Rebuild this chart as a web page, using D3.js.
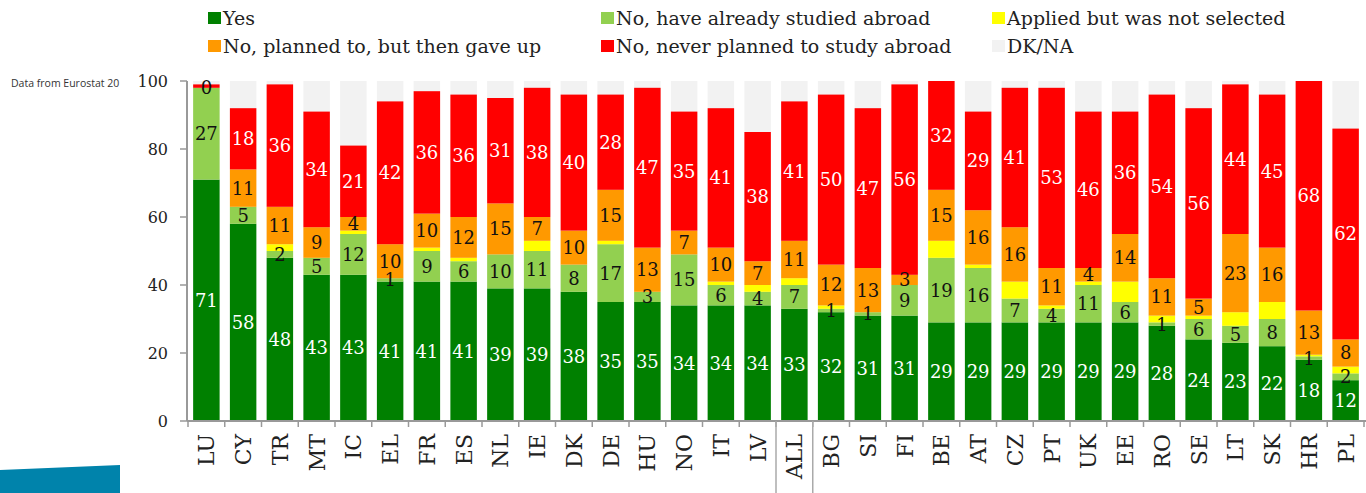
<!DOCTYPE html>
<html>
<head>
<meta charset="utf-8">
<script src="https://cdn.jsdelivr.net/npm/d3@7"></script>
<style>
	body { margin: 0; background: #fff; }
	svg { display: block; }
</style>
</head>
<body>
<div id="chart"></div>
<script>
// categories and series (percent)
var categories = ["LU","CY","TR","MT","IC","EL","FR","ES","NL","IE","DK","DE","HU","NO","IT","LV",
	"ALL","BG","SI","FI","BE","AT","CZ","PT","UK","EE","RO","SE","LT","SK","HR","PL"];
var yes =     [71,58,48,43,43,41,41,41,39,39,38,35,35,34,34,34,33,32,31,31,29,29,29,29,29,29,28,24,23,22,18,12];
var abroad =  [27, 5, 2, 5,12, 1, 9, 6,10,11, 8,17, 3,15, 6, 4, 7, 1, 1, 9,19,16, 7, 4,11, 6, 1, 6, 5, 8, 1, 2];
var applied = [ 0, 0, 2, 0, 1, 0, 1, 1, 0, 3, 0, 1, 0, 0, 1, 2, 2, 1, 0, 0, 5, 1, 5, 1, 1, 6, 2, 1, 4, 5,0.5,2];
var gaveUp =  [ 0,11,11, 9, 4,10,10,12,15, 7,10,15,13, 7,10, 7,11,12,13, 3,15,16,16,11, 4,14,11, 5,23,16,13, 8];
var never =   [ 1,18,36,34,21,42,36,36,31,38,40,28,47,35,41,38,41,50,47,56,32,29,41,53,46,36,54,56,44,45,68,62];
var yTicks = [0, 20, 40, 60, 80, 100];

var series = [
	{ name: "Yes", values: yes, color: "#008000", text: "#fff", minLabel: 0 },
	{ name: "No, have already studied abroad", values: abroad, color: "#92d050", text: "#111", minLabel: 0 },
	{ name: "Applied but was not selected", values: applied, color: "#ffff00", text: null },
	{ name: "No, planned to, but then gave up", values: gaveUp, color: "#ff9900", text: "#111", minLabel: 0 },
	{ name: "No, never planned to study abroad", values: never, color: "#ff0000", text: "#fff", minLabel: 2 }
];
var dkColor = "#f2f2f2";

var width = 1366, height = 493;
var serif = "'DejaVu Serif', 'Liberation Serif', Georgia, serif";

var svg = d3.select("#chart")
	.append("svg")
	.attr("width", width)
	.attr("height", height);

// left strip: source note and blue band
svg.append("clipPath").attr("id", "noteClip")
	.append("rect").attr("x", 0).attr("y", 0).attr("width", 120).attr("height", height);
svg.append("text")
	.attr("x", 11).attr("y", 87)
	.attr("clip-path", "url(#noteClip)")
	.style("font-family", "'Open Sans', sans-serif")
	.style("font-size", "10.5px")
	.style("fill", "#333")
	.text("Data from Eurostat 2014");
svg.append("path")
	.attr("d", "M0,470 L120,465 L120,493 L0,493 Z")
	.style("fill", "#0083ab");

var x = d3.scaleBand()
	.domain(categories)
	.range([188, 1364])
	.paddingInner(0.28)
	.paddingOuter(0.14);

var y = d3.scaleLinear()
	.domain([0, 100])
	.range([421, 81]);

// stack the rows (the plot stops at 100)
var rows = categories.map(function(c, i) {
	var base = 0;
	var segs = series.map(function(s) {
		var v = s.values[i];
		var seg = { cat: c, s: s, y0: Math.min(base, 100), y1: Math.min(base + v, 100), v: v };
		base += v;
		return seg;
	});
	return { cat: c, segs: segs, total: base };
});

// DK/NA background up to 100
svg.selectAll(".dk")
	.data(rows)
	.enter().append("rect")
	.attr("class", "dk")
	.attr("x", function(d) { return x(d.cat); })
	.attr("width", x.bandwidth())
	.attr("y", y(100))
	.attr("height", function(d) { return y(0) - y(100); })
	.style("fill", dkColor);

var bar = svg.selectAll(".bar")
	.data(rows)
	.enter().append("g")
	.attr("class", "bar");

bar.selectAll("rect")
	.data(function(d) { return d.segs; })
	.enter().append("rect")
	.attr("x", function(d) { return x(d.cat); })
	.attr("width", x.bandwidth())
	.attr("y", function(d) { return y(d.y1); })
	.attr("height", function(d) { return y(d.y0) - y(d.y1); })
	.style("fill", function(d) { return d.s.color; });

bar.selectAll("text")
	.data(function(d) { return d.segs.filter(function(s) { return s.s.text && s.v >= s.s.minLabel; }); })
	.enter().append("text")
	.attr("x", function(d) { return x(d.cat) + x.bandwidth() / 2; })
	.attr("y", function(d) { return y((d.y0 + d.y1) / 2); })
	.attr("dy", "0.36em")
	.attr("text-anchor", "middle")
	.style("font-family", serif)
	.style("font-size", "18px")
	.style("fill", function(d) { return d.s.text; })
	.text(function(d) { return d.v; });

// axes
var axisColor = "#999";
svg.append("line")
	.attr("x1", 187).attr("x2", 1366)
	.attr("y1", y(0)).attr("y2", y(0))
	.style("stroke", axisColor).style("stroke-width", 2);
svg.append("line")
	.attr("x1", 187).attr("x2", 187)
	.attr("y1", y(0)).attr("y2", y(100))
	.style("stroke", axisColor).style("stroke-width", 2);

svg.selectAll(".ytick")
	.data(yTicks)
	.enter().append("line")
	.attr("x1", 180).attr("x2", 187)
	.attr("y1", function(d) { return y(d); })
	.attr("y2", function(d) { return y(d); })
	.style("stroke", axisColor).style("stroke-width", 1.5);

svg.selectAll(".ylab")
	.data(yTicks)
	.enter().append("text")
	.attr("x", 168)
	.attr("y", function(d) { return y(d); })
	.attr("dy", "0.36em")
	.attr("text-anchor", "end")
	.style("font-family", serif)
	.style("font-size", "16px")
	.style("fill", "#222")
	.text(function(d) { return d; });

// x ticks sit between the bars
var gap = (x.step() - x.bandwidth()) / 2;
var bounds = categories.map(function(c) { return x(c) - gap; });
bounds.push(x(categories[categories.length - 1]) + x.bandwidth() + gap);

svg.selectAll(".xtick")
	.data(bounds)
	.enter().append("line")
	.attr("x1", function(d) { return d; })
	.attr("x2", function(d) { return d; })
	.attr("y1", y(0)).attr("y2", y(0) + 6)
	.style("stroke", axisColor).style("stroke-width", 1.5);

svg.selectAll(".xlab")
	.data(categories)
	.enter().append("text")
	.attr("transform", function(d) { return "translate(" + (x(d) + x.bandwidth() / 2) + ",434) rotate(-90)"; })
	.attr("dy", "0.36em")
	.attr("text-anchor", "end")
	.style("font-family", serif)
	.style("font-size", "22px")
	.style("fill", "#222")
	.text(function(d) { return d; });

// frame round the ALL label
var iAll = categories.indexOf("ALL");
svg.selectAll(".sep")
	.data([bounds[iAll], bounds[iAll + 1]])
	.enter().append("line")
	.attr("x1", function(d) { return d; })
	.attr("x2", function(d) { return d; })
	.attr("y1", y(0)).attr("y2", height)
	.style("stroke", "#aaa").style("stroke-width", 1.5);

// legend, three columns by two rows
var legendPos = [
	{ s: 0, x: 208, y: 18 }, { s: 1, x: 601, y: 18 }, { s: 2, x: 992, y: 18 },
	{ s: 3, x: 208, y: 46 }, { s: 4, x: 601, y: 46 }, { s: -1, x: 992, y: 46 }
];
var legend = svg.selectAll(".legend")
	.data(legendPos)
	.enter().append("g")
	.attr("class", "legend")
	.attr("transform", function(d) { return "translate(" + d.x + "," + d.y + ")"; });

legend.append("rect")
	.attr("x", 0).attr("y", -6)
	.attr("width", 13).attr("height", 12)
	.style("fill", function(d) { return d.s < 0 ? dkColor : series[d.s].color; });

legend.append("text")
	.attr("x", 15)
	.attr("dy", "0.36em")
	.style("font-family", serif)
	.style("font-size", "19px")
	.style("fill", "#222")
	.text(function(d) { return d.s < 0 ? "DK/NA" : series[d.s].name; });
</script>
</body>
</html>
